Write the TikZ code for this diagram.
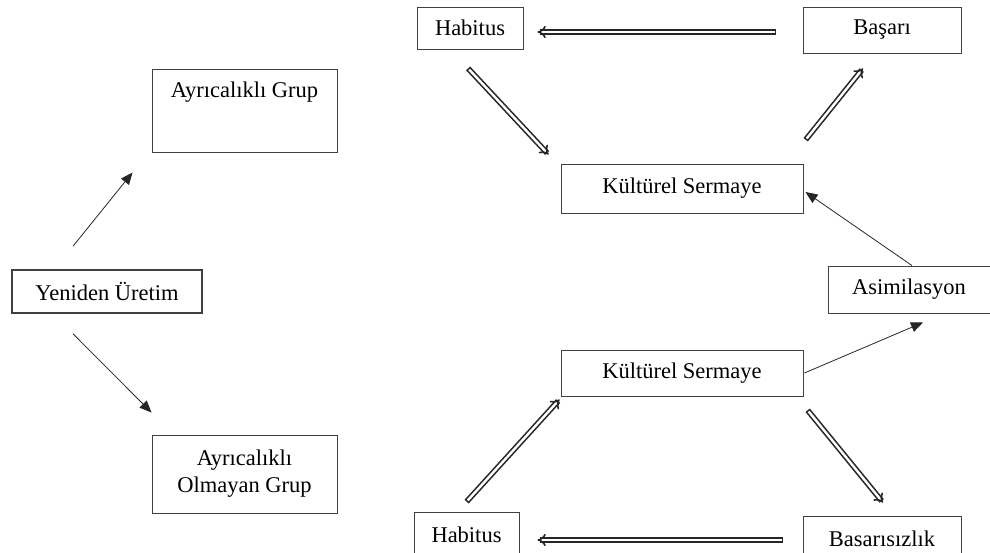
\documentclass[tikz,border=0pt]{standalone}
\usepackage{fontspec}
\setmainfont{Liberation Serif}
\usetikzlibrary{arrows.meta}
\begin{document}
\begin{tikzpicture}[x=1pt,y=-1pt,
	box/.style={rectangle,draw=black!75,line width=0.9pt,inner sep=0pt,
		font=\fontsize{22.5}{27}\selectfont,align=center},
	grptop/.style={text height=23pt,text depth=48pt,inner ysep=6pt},
	dbl/.style={draw=black!85,double=white,double distance=2.4pt,line width=1.6pt,
		line cap=rect,-{Implies[length=7pt,width=13pt]}},
	sgl/.style={draw=black!85,line width=0.8pt,-{Triangle[length=12pt,width=10pt]}}]
\useasboundingbox (0,0) rectangle (990,553);
% left part
\node[box,line width=1.6pt,minimum width=190,minimum height=43] (yeniden) at (107,291.5) {Yeniden Üretim};
\node[box,grptop,minimum width=185,minimum height=83] (grup1) at (244.5,110.5) {Ayrıcalıklı Grup};
\node[box,minimum width=185,minimum height=78] (grup2) at (244.5,474) {Ayrıcalıklı\\Olmayan Grup};
% right part
\node[box,minimum width=106,minimum height=42] (hab1) at (470,28) {Habitus};
\node[box,minimum width=158,minimum height=46] (basari) at (882,30) {Başarı};
\node[box,minimum width=242,minimum height=49] (ks1) at (682,188.5) {Kültürel Sermaye};
\node[box,minimum width=162,minimum height=47] (asim) at (909,289.5) {Asimilasyon};
\node[box,minimum width=242,minimum height=46] (ks2) at (682,373) {Kültürel Sermaye};
\node[box,minimum width=105,minimum height=46] (hab2) at (466.5,535) {Habitus};
\node[box,minimum width=158,minimum height=46] (basarisiz) at (882,539) {Basarısızlık};

\draw[sgl] ([shift={(-34,-23)}]yeniden.north) -- ([shift={(-19,20)}]grup1.south west);
\draw[sgl] ([shift={(-34,20)}]yeniden.south) -- ([shift={(0,-22)}]grup2.north west);

\draw[dbl] ([shift={(-29,2)}]basari.west) -- ([shift={(14,4)}]hab1.east);
\draw[dbl] ([shift={(0,21)}]hab1.south) -- ([shift={(-12,-9)}]ks1.north west);
\draw[dbl] ([shift={(4,-26)}]ks1.north east) -- ([shift={(-19,15)}]basari.south);
\draw[sgl] ([shift={(3,0)}]asim.north) -- ([shift={(2,3.5)}]ks1.east);
\draw[sgl] ([shift={(1,0)}]ks2.east) -- ([shift={(14,9)}]asim.south);
\draw[dbl] ([shift={(6,16)}]ks2.south east) -- ([shift={(1,-13)}]basarisiz.north);
\draw[dbl] ([shift={(-22,1)}]basarisiz.west) -- ([shift={(18,5)}]hab2.east);
\draw[dbl] ([shift={(2,-12)}]hab2.north) -- ([shift={(-1,3)}]ks2.south west);
\end{tikzpicture}
\end{document}
